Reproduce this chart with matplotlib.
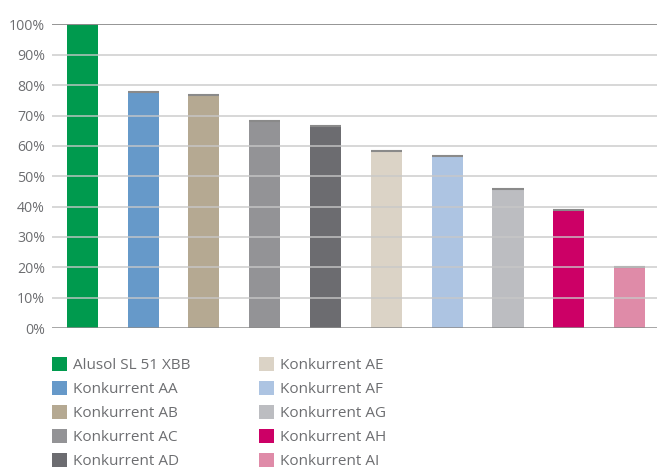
import matplotlib.pyplot as plt
from matplotlib.patches import Patch

# values (percent)
labels = ['Alusol SL 51 XBB', 'Konkurrent AA', 'Konkurrent AB', 'Konkurrent AC',
          'Konkurrent AD', 'Konkurrent AE', 'Konkurrent AF', 'Konkurrent AG',
          'Konkurrent AH', 'Konkurrent AI']
values = [100, 77.8, 76.9, 68.2, 66.6, 58.3, 56.7, 45.8, 38.9, 20.1]
colors = ['#009a4e', '#6699c9', '#b5a992', '#939396', '#6c6c70',
          '#dbd3c6', '#adc4e2', '#bcbdc1', '#cc0066', '#df8ba8']
yticks = [0, 10, 20, 30, 40, 50, 60, 70, 80, 90, 100]

plt.rcParams['font.family'] = ['Open Sans', 'DejaVu Sans']
text_color = '#6d6e71'

fig = plt.figure(figsize=(6.57, 4.70), dpi=100)
ax = fig.add_axes([0.079, 0.302, 0.921, 0.646])

x = list(range(len(values)))
width = 0.51
ax.bar(x, values, width=width, color=colors, zorder=1)
# thin grey cap on top of each bar
ax.hlines(values, [i - width / 2 for i in x], [i + width / 2 for i in x],
          colors='#8a8a8a', linewidth=1.5, zorder=2)

for t in yticks:
    if t == 100:
        ax.axhline(t, color='#8c8c8c', linewidth=1.3, zorder=3)
    elif t > 0:
        ax.axhline(t, color='#c8c8c8', linewidth=1.2, alpha=0.85, zorder=3)
ax.axhline(0, color='#8c8c8c', linewidth=1.8, zorder=4)

ax.set_xlim(-0.5, 9.45)
ax.set_ylim(0, 100)
ax.set_xticks([])
ax.set_yticks(yticks)
ax.set_yticklabels([f'{t}%' for t in yticks], fontsize=10.2, color=text_color)
ax.tick_params(axis='y', length=0, pad=5)
for s in ax.spines.values():
    s.set_visible(False)

handles = [Patch(facecolor=c, edgecolor='none') for c in colors]
leg = fig.legend(handles, labels, loc='upper left', bbox_to_anchor=(0.079, 0.24),
                 ncol=2, frameon=False, fontsize=11, handlelength=1.0,
                 handleheight=1.0, handletextpad=0.4, labelspacing=0.52,
                 columnspacing=4.45, borderaxespad=0, borderpad=0)
for t in leg.get_texts():
    t.set_color(text_color)

fig.savefig('out.png', dpi=100)
